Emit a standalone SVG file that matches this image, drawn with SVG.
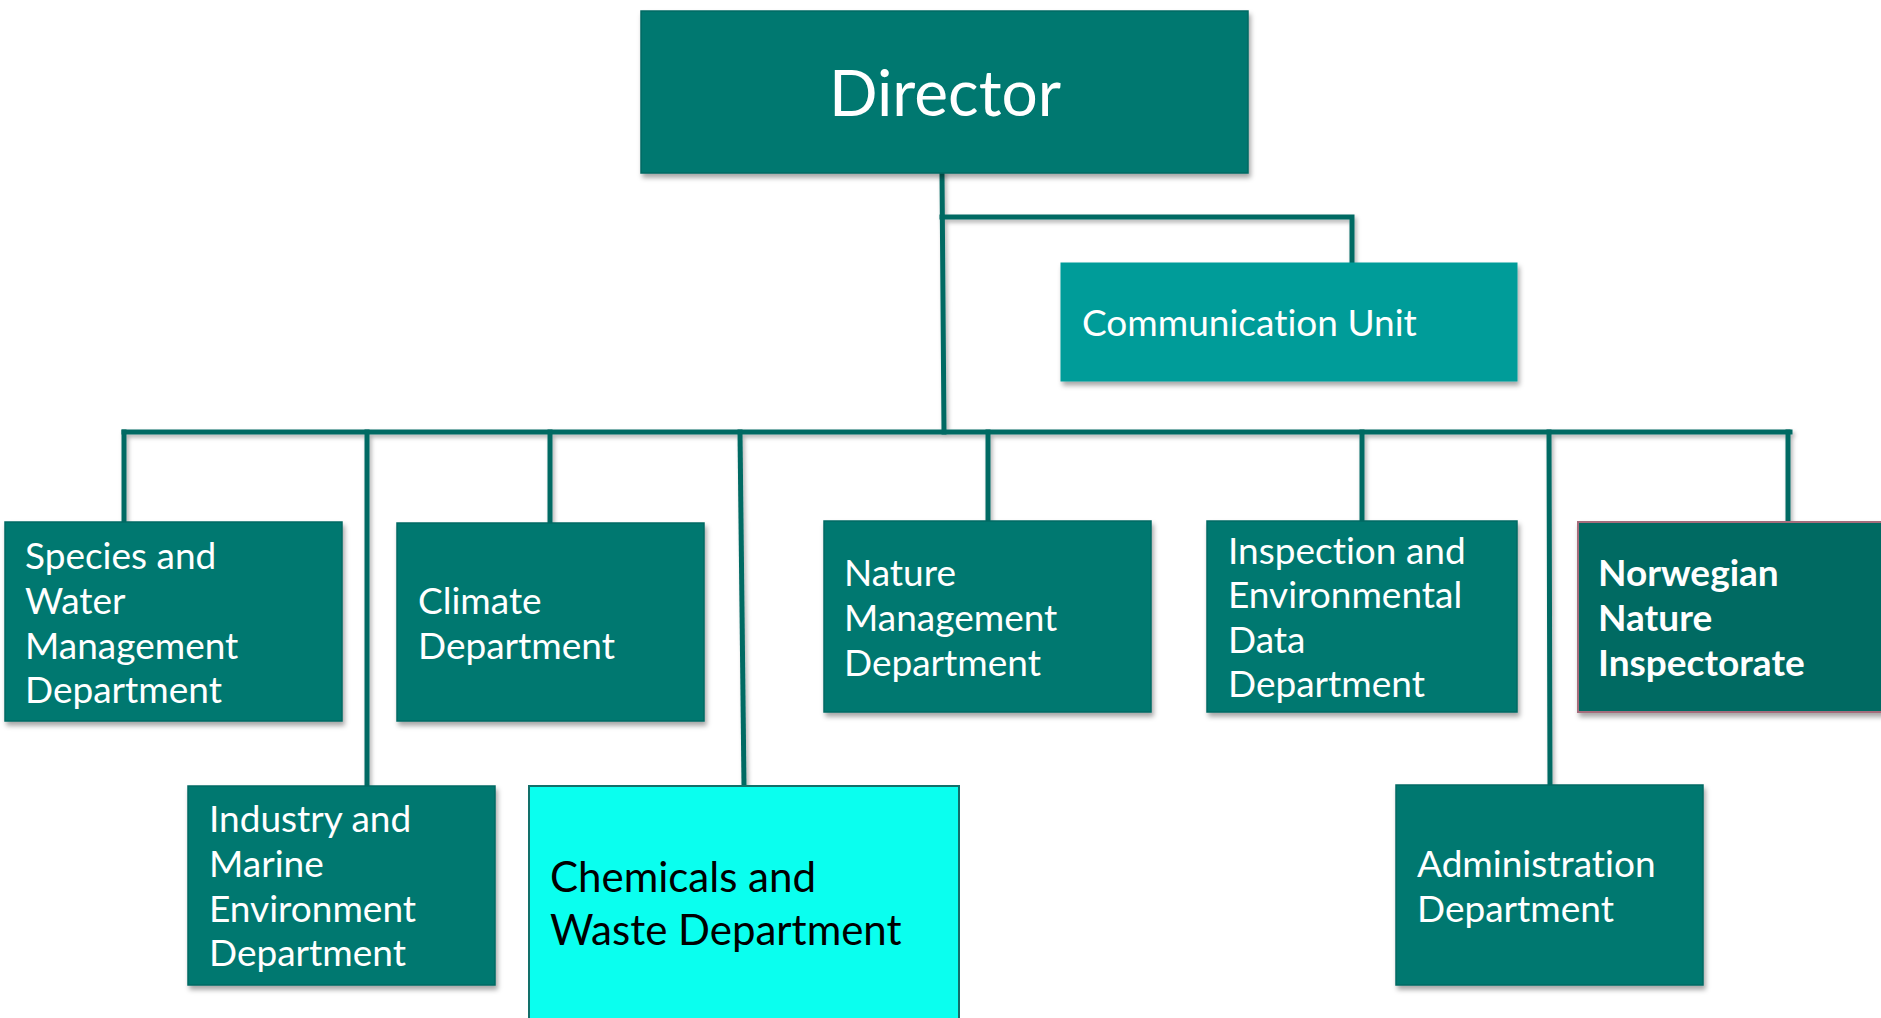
<svg xmlns="http://www.w3.org/2000/svg" width="1881" height="1018" viewBox="0 0 1881 1018">
<defs>
<filter id="sh" x="-10%" y="-10%" width="130%" height="140%">
<feDropShadow dx="2" dy="4" stdDeviation="2.5" flood-color="#000" flood-opacity="0.35"/>
</filter>
<filter id="lsh" filterUnits="userSpaceOnUse" x="0" y="0" width="1881" height="1018">
<feDropShadow dx="2" dy="3" stdDeviation="2" flood-color="#000" flood-opacity="0.3"/>
</filter>
<style>
.box{fill:#007870;stroke:#006a63;stroke-width:1.5;filter:url(#sh)}
.comm{fill:#049c99;stroke:#049c99;stroke-width:1;filter:url(#sh)}
.nor{fill:#006a62;stroke:#a56d7c;stroke-width:2;filter:url(#sh)}
.chem{fill:#0affef;stroke:#12706a;stroke-width:2}
.t{font-family:Lato,"Open Sans","DejaVu Sans",sans-serif;font-size:37px;fill:#fff;font-variant-ligatures:none}
.tb{font-weight:bold}
.tc{fill:#000;font-size:42px}
.conn{fill:none;stroke:#006a63;stroke-width:5;stroke-linecap:square}
</style>
</defs>
<rect width="1881" height="1018" fill="#fff"/>
<g id="connectors" filter="url(#lsh)">
<path class="conn" d="M942 173 L944 432"/>
<path class="conn" d="M942 217 L1352 217 L1352 263"/>
<path class="conn" d="M124 432 L1790 432"/>
<path class="conn" d="M124 432 L124 522"/>
<path class="conn" d="M367 432 L367 786"/>
<path class="conn" d="M550 432 L550 523"/>
<path class="conn" d="M740 432 L744 786"/>
<path class="conn" d="M988 432 L988 521"/>
<path class="conn" d="M1362 432 L1362 521"/>
<path class="conn" d="M1549 432 L1550 785"/>
<path class="conn" d="M1788 432 L1788 522"/>
</g>
<g id="director">
<rect class="box" x="641" y="11" width="607" height="162"/>
<text class="t" x="945" y="116" text-anchor="middle" style="font-size:64px">Director</text>
</g>
<g id="communication">
<rect class="comm" x="1061" y="263" width="456" height="118"/>
<text class="t" x="1082" y="336">Communication Unit</text>
</g>
<g id="species">
<rect class="box" x="5" y="522" width="337" height="199"/>
<text class="t" x="25"><tspan x="25" y="569">Species and</tspan><tspan x="25" y="614">Water</tspan><tspan x="25" y="659">Management</tspan><tspan x="25" y="703">Department</tspan></text>
</g>
<g id="climate">
<rect class="box" x="397" y="523" width="307" height="198"/>
<text class="t"><tspan x="418" y="614">Climate</tspan><tspan x="418" y="659">Department</tspan></text>
</g>
<g id="nature">
<rect class="box" x="824" y="521" width="327" height="191"/>
<text class="t"><tspan x="844" y="586">Nature</tspan><tspan x="844" y="631">Management</tspan><tspan x="844" y="676">Department</tspan></text>
</g>
<g id="inspection">
<rect class="box" x="1207" y="521" width="310" height="191"/>
<text class="t"><tspan x="1228" y="564">Inspection and</tspan><tspan x="1228" y="608">Environmental</tspan><tspan x="1228" y="653">Data</tspan><tspan x="1228" y="697">Department</tspan></text>
</g>
<g id="norwegian">
<rect class="nor" x="1578" y="522" width="320" height="190"/>
<text class="t tb"><tspan x="1598" y="586">Norwegian</tspan><tspan x="1598" y="631">Nature</tspan><tspan x="1598" y="676">Inspectorate</tspan></text>
</g>
<g id="industry">
<rect class="box" x="188" y="786" width="307" height="199"/>
<text class="t"><tspan x="209" y="832">Industry and</tspan><tspan x="209" y="877">Marine</tspan><tspan x="209" y="922">Environment</tspan><tspan x="209" y="966">Department</tspan></text>
</g>
<g id="chemicals">
<rect class="chem" x="529" y="786" width="430" height="260"/>
<text class="t tc"><tspan x="550" y="892">Chemicals and</tspan><tspan x="550" y="945">Waste Department</tspan></text>
</g>
<g id="administration">
<rect class="box" x="1396" y="785" width="307" height="200"/>
<text class="t"><tspan x="1417" y="877">Administration</tspan><tspan x="1417" y="922">Department</tspan></text>
</g>
</svg>
